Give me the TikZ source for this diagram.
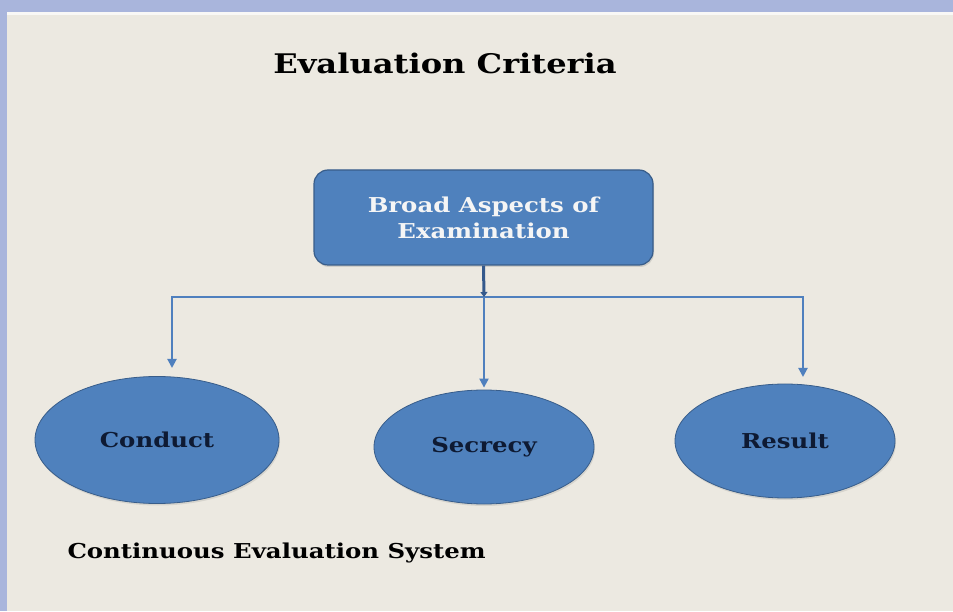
\documentclass[tikz,border=0pt]{standalone}
\usepackage{fontspec}
\setmainfont{DejaVu Serif}[FakeStretch=1.19]
\usetikzlibrary{positioning,shapes.geometric,shadows,arrows.meta}
\definecolor{bgbeige}{HTML}{ECE9E1}
\definecolor{frameblue}{HTML}{A9B5DC}
\definecolor{boxblue}{HTML}{4F81BD}
\definecolor{boxedge}{HTML}{385D8A}
\definecolor{linkblue}{HTML}{4F80BE}
\definecolor{stemblue}{HTML}{34598C}
\definecolor{inkblue}{HTML}{0E1A33}

\begin{document}
\begin{tikzpicture}[x=1pt, y=1pt,
    aspect/.style={draw=boxedge, line width=1.2pt, fill=boxblue, rounded corners=14pt,
      minimum width=339pt, minimum height=95pt, align=center, text=white!96!black,
      font=\bfseries\fontsize{20.5}{26}\selectfont,
      drop shadow={opacity=0.25, shadow xshift=1pt, shadow yshift=-2pt}},
    crit/.style={ellipse, draw=boxedge, line width=0.8pt, fill=boxblue, text=inkblue,
      font=\bfseries\fontsize{20.5}{24}\selectfont,
      drop shadow={opacity=0.2, shadow xshift=1pt, shadow yshift=-2pt}},
    link/.style={draw=linkblue, line width=2pt, -{Triangle[length=9pt,width=9pt]}},
    stem/.style={draw=stemblue, line width=3pt, -{Triangle[length=5pt,width=7pt]}}]
    \fill[bgbeige] (0,0) rectangle (953,611);
    \fill[frameblue] (0,599) rectangle (953,611);
    \fill[frameblue] (0,0) rectangle (7,611);
    \fill[white!70!bgbeige] (7,596) rectangle (953,599);
    \useasboundingbox (0,0) rectangle (953,611);

    \node (title) at (445,548) {\bfseries\fontsize{27}{32}\selectfont Evaluation\ Criteria};
    \node[aspect] (aspects) at (483.5,393.5) {Broad Aspects of\\Examination};
    \node[crit, minimum width=244pt, minimum height=127pt] (conduct) at (157,171) {Conduct};
    \node[crit, minimum width=220pt, minimum height=114pt] (secrecy) at (484,164) {Secrecy};
    \node[crit, minimum width=220pt, minimum height=114pt] (result) at (785,170) {Result};
    \node[anchor=west] (ces) at (64,58) {\bfseries\fontsize{20.5}{24}\selectfont Continuous Evaluation System};

    \coordinate (junction) at (484,314);
    \coordinate (lefttip) at (172,243);
    \coordinate (righttip) at (803,234);

    \draw[link] (junction) -| (lefttip);
    \draw[link] (junction) -| (righttip);
    \draw[link, shorten >=2pt] (junction) -- (secrecy.north);
    \draw[stem] (aspects.south) -- (junction);
\end{tikzpicture}
\end{document}
